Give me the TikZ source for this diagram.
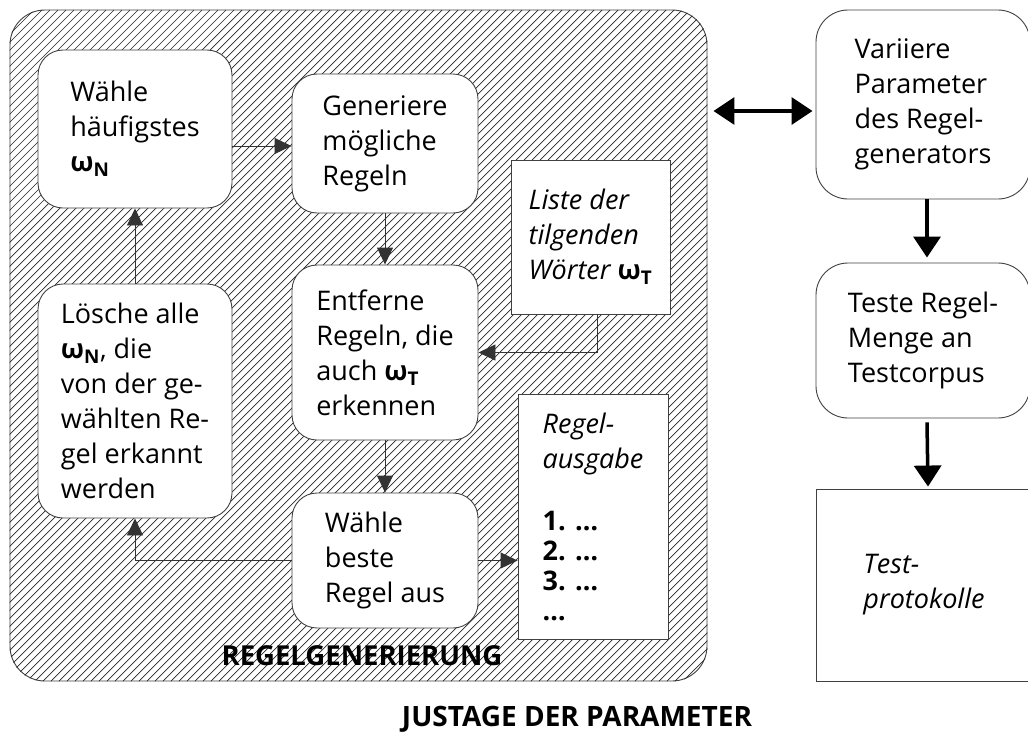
\documentclass[tikz,border=0pt]{standalone}
\usepackage{fontspec}
\setmainfont{Open Sans}
\usetikzlibrary{arrows.meta,calc}
\newcommand{\omsub}[1]{{\upshape\bfseries ω\textsubscript{#1}}}
\begin{document}
\begin{tikzpicture}[x=1pt,y=-1pt,
  txt/.style={font=\fontsize{27}{35}\selectfont},
  sz/.style 2 args={minimum width=#1pt, minimum height=#2pt},
  box/.style={draw=black!75, line width=0.9pt, fill=white, rounded corners=25pt,
    align=left, inner sep=0pt, txt},
  bigbox/.style={box, rounded corners=32pt},
  plain/.style={draw=black!75, line width=0.9pt, fill=white, sharp corners,
    align=left, inner sep=0pt, txt},
  hatch/.style={draw=black!85, line width=0.7pt},
  conn/.style={draw=black!80, line width=0.9pt, -{Triangle[length=17pt,width=16pt]}},
  bigarrow/.style={draw=black, line width=3.5pt, -{Triangle[length=21pt,width=27pt]}},
  dblarrow/.style={draw=black, line width=3.5pt,
    {Triangle[length=21pt,width=27pt]}-{Triangle[length=21pt,width=27pt]}},
  title/.style={font=\fontsize{27.5}{30}\selectfont\bfseries, inner sep=0pt},
]
\useasboundingbox (0,0) rectangle (1028,734);

% outer hatched region
\node[draw=black!75, line width=0.9pt, rounded corners=35pt, inner sep=0pt,
  minimum width=697pt, minimum height=671pt] (outer) at (358.5,345.5) {};
\begin{scope}
  \clip[rounded corners=35pt] (outer.north west) rectangle (outer.south east);
  \foreach \c in {20,28,...,1388} \draw[hatch] (\c-681,681) -- (\c-10,10);
\end{scope}

\node[title] (rg) at (362,656) {REGELGENERIERUNG};

% inner boxes
\node[box, sz={194}{158}] (w1) at (135,129) {Wähle\\häufigstes\\\omsub{N}};
\node[box, sz={186}{139}] (w2) at (385,143.5) {Generiere\\mögliche\\Regeln};
\node[box, sz={194}{234}] (w3) at (135,401) {Lösche alle\\\omsub{N}, die\\von der ge-\\wählten Re-\\gel erkannt\\werden};
\node[box, sz={186}{175}] (w4) at (385,352.5) {Entferne\\Regeln, die\\auch \omsub{T}\\erkennen};
\node[box, sz={186}{135}] (w5) at (385,560.5) {Wähle\\beste\\Regel aus};
\node[plain, sz={159}{154}] (liste) at (590.5,237) {\itshape Liste der\\\itshape tilgenden\\\itshape Wörter \omsub{T}};
\node[plain, sz={150}{245}] (ausg) at (593,516.5) {\itshape Regel-\\\itshape ausgabe\\[27pt]\bfseries 1. …\\[-5pt]\bfseries 2. …\\[-5pt]\bfseries 3. …\\[-5pt]\bfseries …};

% right column
\node[bigbox, sz={214}{189}] (var) at (923,104.5) {Variiere\\Parameter\\des Regel-\\generators};
\node[bigbox, sz={214}{155}] (teste) at (923,340.5) {Teste Regel-\\Menge an\\Testcorpus};
\node[plain, sz={216}{192}] (prot) at (924,585) {\itshape Test-\\\itshape protokolle};

\node[title, font=\fontsize{28}{30}\selectfont\bfseries] (jp) at (577,719) {JUSTAGE DER PARAMETER};

% connectors inside
\coordinate (a1) at ($(w1.east)+(0,17)$);
\draw[conn] (a1) -- (a1 -| w2.west);
\draw[conn] (w3.north) -- (w1.south);
\draw[conn] (w2.south) -- (w4.north);
\draw[conn] (w4.south) -- (w5.north);
\draw[conn] (w5.west) -| (w3.south);
\draw[conn] (w5.east) -- (w5.east -| ausg.west);
\coordinate (c1) at ($(liste.south)+(6.5,0)$);
\draw[conn] (c1) |- (w4.east);

% right column arrows
\draw[dblarrow] ($(outer.east |- var.west)+(6,6.5)$) -- ($(var.west)+(-3,6.5)$);
\draw[bigarrow] ($(var.south)+(4,0)$) -- ($(teste.north)+(4,-5)$);
\draw[bigarrow] ($(teste.south)+(4,4)$) -- ($(prot.north)+(4,-2)$);
\end{tikzpicture}
\end{document}
